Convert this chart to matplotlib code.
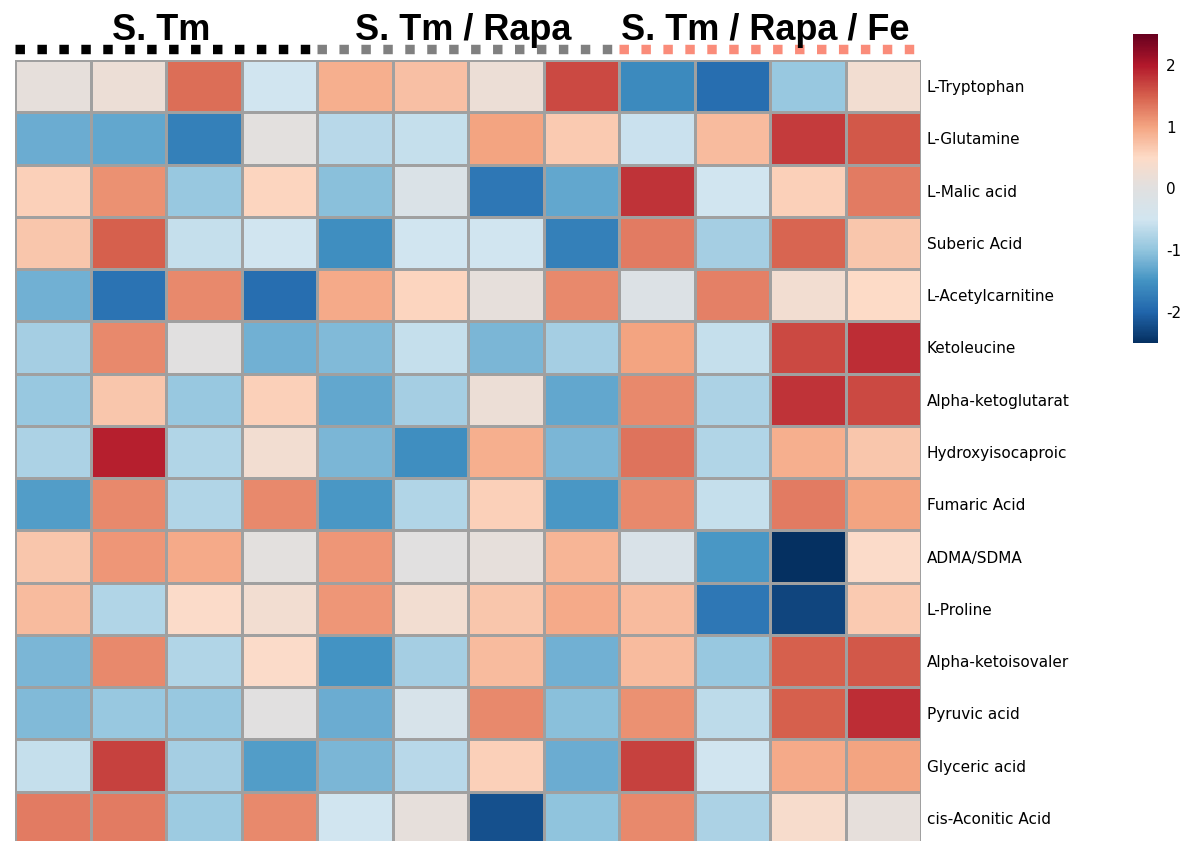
import numpy as np
import matplotlib
matplotlib.use("Agg")
import matplotlib.pyplot as plt
from matplotlib.colors import LinearSegmentedColormap
from matplotlib.transforms import blended_transform_factory

# metabolite rows (top to bottom) and sample groups (4 samples each)
metabolites = [
    "L-Tryptophan", "L-Glutamine", "L-Malic acid", "Suberic Acid",
    "L-Acetylcarnitine", "Ketoleucine", "Alpha-ketoglutarat",
    "Hydroxyisocaproic", "Fumaric Acid", "ADMA/SDMA", "L-Proline",
    "Alpha-ketoisovaler", "Pyruvic acid", "Glyceric acid", "cis-Aconitic Acid",
]
groups = ["S. Tm", "S. Tm / Rapa", "S. Tm / Rapa / Fe"]
group_colors = ["#000000", "#808080", "#FA8C7A"]
samples_per_group = 4

# row-scaled abundance (z-scores)
z_scores = np.array([
    [0.10, 0.20, 1.40, -0.50, 0.90, 0.75, 0.20, 1.65, -1.60, -1.90, -0.95, 0.30],
    [-1.25, -1.30, -1.70, 0.05, -0.70, -0.60, 1.00, 0.65, -0.55, 0.80, 1.75, 1.55],
    [0.60, 1.15, -0.95, 0.55, -1.05, -0.20, -1.80, -1.30, 1.80, -0.50, 0.60, 1.30],
    [0.70, 1.50, -0.60, -0.50, -1.55, -0.50, -0.50, -1.70, 1.30, -0.85, 1.45, 0.70],
    [-1.20, -1.85, 1.20, -1.90, 0.95, 0.55, 0.10, 1.20, -0.15, 1.25, 0.30, 0.50],
    [-0.85, 1.20, 0.00, -1.20, -1.10, -0.60, -1.15, -0.85, 1.00, -0.60, 1.65, 1.85],
    [-0.95, 0.70, -0.95, 0.60, -1.30, -0.85, 0.20, -1.30, 1.20, -0.80, 1.80, 1.65],
    [-0.80, 1.95, -0.75, 0.30, -1.15, -1.55, 0.90, -1.15, 1.35, -0.75, 0.90, 0.70],
    [-1.40, 1.20, -0.75, 1.20, -1.45, -0.75, 0.60, -1.45, 1.20, -0.60, 1.30, 1.00],
    [0.70, 1.10, 0.95, 0.05, 1.10, 0.00, 0.10, 0.85, -0.25, -1.45, -2.50, 0.45],
    [0.80, -0.75, 0.45, 0.30, 1.10, 0.30, 0.70, 0.95, 0.80, -1.80, -2.30, 0.65],
    [-1.15, 1.20, -0.75, 0.45, -1.50, -0.85, 0.80, -1.20, 0.80, -0.95, 1.50, 1.55],
    [-1.10, -0.95, -0.95, 0.00, -1.25, -0.30, 1.20, -1.05, 1.15, -0.65, 1.50, 1.85],
    [-0.60, 1.70, -0.85, -1.40, -1.15, -0.70, 0.60, -1.25, 1.70, -0.50, 0.95, 1.00],
    [1.30, 1.30, -0.90, 1.20, -0.50, 0.10, -2.20, -1.00, 1.20, -0.80, 0.40, 0.10],
])
cbar_ticks = [-2, -1, 0, 1, 2]

# diverging palette with a grey midpoint
cmap = LinearSegmentedColormap.from_list("rdbu_grey", [
    "#053061", "#2166AC", "#4393C3", "#92C5DE", "#D1E5F0", "#E0E0E0",
    "#FDDBC7", "#F4A582", "#D6604D", "#B2182B", "#67001F"])

W, H = 1188, 841
fig = plt.figure(figsize=(W / 100, H / 100), dpi=100)

ax = fig.add_axes([15 / W, (H - 844) / H, 906 / W, 784 / H])
mesh = ax.pcolormesh(z_scores, cmap=cmap, vmin=-2.5, vmax=2.5,
                     edgecolors="#a0a0a0", linewidth=1.0)
ax.set_xlim(0, z_scores.shape[1])
ax.set_ylim(z_scores.shape[0], 0)
ax.set_xticks([])
ax.set_yticks(np.arange(len(metabolites)) + 0.5)
ax.set_yticklabels(metabolites, fontsize=11, family="DejaVu Sans")
ax.yaxis.tick_right()
ax.tick_params(axis="y", length=0, pad=4)
for s in ax.spines.values():
    s.set_visible(False)

# group titles and dashed annotation bars above the columns
trans = blended_transform_factory(ax.transData, fig.transFigure)
plt.rcParams["lines.scale_dashes"] = False
for g, (name, col) in enumerate(zip(groups, group_colors)):
    x0 = g * samples_per_group
    x1 = x0 + samples_per_group
    ax.text((x0 + x1) / 2 - 0.06, 1 - 40 / H, name, transform=trans,
            ha="center", va="baseline", fontsize=26, fontweight="bold",
            family="Liberation Sans", clip_on=False)
    ax.plot([x0, x1], [1 - 48.5 / H] * 2, transform=trans, color=col,
            lw=6.8, linestyle=(0, (6.8, 9.0)), solid_capstyle="butt",
            dash_capstyle="butt", clip_on=False)

# colour key
cax = fig.add_axes([1133 / W, (H - 343) / H, 25 / W, 309 / H])
cb = fig.colorbar(mesh, cax=cax, ticks=cbar_ticks)
cb.outline.set_visible(False)
cb.ax.tick_params(length=0, pad=6, labelsize=11)
cb.ax.set_yticklabels([str(t) for t in cbar_ticks])

fig.savefig("out.png", dpi=100)
